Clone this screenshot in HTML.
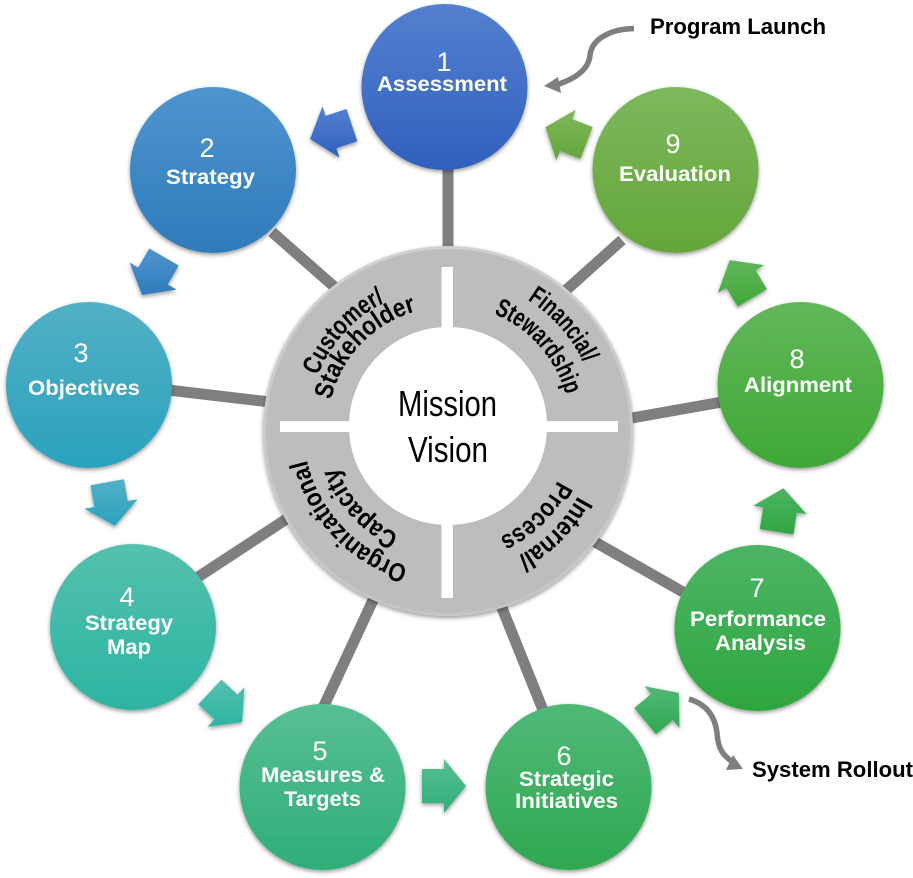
<!DOCTYPE html>
<html><head><meta charset="utf-8"><style>
html,body{margin:0;padding:0;background:#fff}
svg{display:block}
text{font-family:"Liberation Sans",Arial,sans-serif}
.n{fill:#fff;font-size:27px;text-anchor:middle}
.l{fill:#fff;font-size:21px;font-weight:bold;text-anchor:middle}
.t{fill:#000;font-size:26px;font-weight:bold}
.b{fill:#000;font-size:22px;font-weight:bold}
</style></head><body>
<svg width="913" height="878" viewBox="0 0 913 878" xmlns="http://www.w3.org/2000/svg">
<defs>
<filter id="s" x="-15%" y="-15%" width="130%" height="130%"><feDropShadow dx="0" dy="2" stdDeviation="2" flood-color="#000" flood-opacity=".4"/></filter>
<filter id="bl" x="-5%" y="-5%" width="110%" height="110%"><feGaussianBlur stdDeviation=".35"/></filter>
<linearGradient id="g1" x1="0" y1="0" x2="0" y2="1"><stop offset="0" stop-color="#5580d0"/><stop offset="1" stop-color="#2f60bd"/></linearGradient>
<linearGradient id="g2" x1="0" y1="0" x2="0" y2="1"><stop offset="0" stop-color="#4f95cf"/><stop offset="1" stop-color="#2f7bbb"/></linearGradient>
<linearGradient id="g3" x1="0" y1="0" x2="0" y2="1"><stop offset="0" stop-color="#52b0c6"/><stop offset="1" stop-color="#2aa2bc"/></linearGradient>
<linearGradient id="g4" x1="0" y1="0" x2="0" y2="1"><stop offset="0" stop-color="#55c0ae"/><stop offset="1" stop-color="#2cb5a2"/></linearGradient>
<linearGradient id="g5" x1="0" y1="0" x2="0" y2="1"><stop offset="0" stop-color="#58bf94"/><stop offset="1" stop-color="#2eae78"/></linearGradient>
<linearGradient id="g6" x1="0" y1="0" x2="0" y2="1"><stop offset="0" stop-color="#50b978"/><stop offset="1" stop-color="#2fa850"/></linearGradient>
<linearGradient id="g7" x1="0" y1="0" x2="0" y2="1"><stop offset="0" stop-color="#4db565"/><stop offset="1" stop-color="#2ea63f"/></linearGradient>
<linearGradient id="g8" x1="0" y1="0" x2="0" y2="1"><stop offset="0" stop-color="#62b75a"/><stop offset="1" stop-color="#3fa836"/></linearGradient>
<linearGradient id="g9" x1="0" y1="0" x2="0" y2="1"><stop offset="0" stop-color="#7db85c"/><stop offset="1" stop-color="#64a63a"/></linearGradient>
<linearGradient id="d" x1="0" y1="0" x2="0" y2="1"><stop offset="0" stop-color="#d0d0d0"/><stop offset="1" stop-color="#c4c4c4"/></linearGradient>
<path id="p1" d="M317.700,375.700 A140,140 0 0 1 411.800,291.800"/>
<path id="p2" d="M331,400 A120,120 0 0 1 443.800,307.100"/>
<path id="p3" d="M527.500,299.800 A150,150 0 0 1 594.700,395.800"/>
<path id="p4" d="M493.700,313.900 A122,122 0 0 1 570,427"/>
<path id="p5" d="M577.800,496 A147,147 0 0 1 473.500,571.800"/>
<path id="p6" d="M557.700,480.500 A122,122 0 0 1 458.600,548.500"/>
<path id="p7" d="M408,566.400 A145,145 0 0 1 303.600,414.400"/>
<path id="p8" d="M399,534.400 A118,118 0 0 1 330.500,437.300"/>
</defs>
<g stroke="#7f7f7f" stroke-width="11" fill="none">
<line x1="448" y1="165" x2="448" y2="250"/>
<line x1="272" y1="232" x2="338" y2="290"/>
<line x1="168" y1="390" x2="270" y2="402"/>
<line x1="195" y1="579" x2="288" y2="518"/>
<line x1="323" y1="708" x2="374" y2="598"/>
<line x1="543" y1="710" x2="500" y2="603"/>
<line x1="683" y1="592" x2="595" y2="542"/>
<line x1="722" y1="402" x2="632" y2="418"/>
<line x1="622" y1="240" x2="564" y2="292"/>
</g>
<circle cx="448" cy="431" r="185" fill="url(#d)" filter="url(#s)"/>
<circle cx="448" cy="431" r="182" fill="#bdbdbd"/>
<rect x="441.500" y="267" width="11.500" height="331" fill="#fff"/>
<rect x="280" y="421" width="338" height="11" fill="#fff"/>
<circle cx="448" cy="426" r="99" fill="#fff"/>
<g filter="url(#s)">
<circle cx="444.500" cy="87" r="83" fill="url(#g1)"/>
<circle cx="213" cy="170" r="83" fill="url(#g2)"/>
<circle cx="89" cy="385" r="83" fill="url(#g3)"/>
<circle cx="133" cy="627" r="83" fill="url(#g4)"/>
<circle cx="322.500" cy="787" r="83" fill="url(#g5)"/>
<circle cx="568.500" cy="787" r="83" fill="url(#g6)"/>
<circle cx="757.500" cy="628" r="83" fill="url(#g7)"/>
<circle cx="800.500" cy="385" r="83" fill="url(#g8)"/>
<circle cx="675.500" cy="170" r="83" fill="url(#g9)"/>
<polygon fill="url(#g1)" points="357.300,141.200 336.400,148.100 339.500,157.600 310.100,139 322.500,106.400 325.600,115.900 346.500,108.950"/>
<polygon fill="url(#g2)" points="178.700,265.450 167.700,284.500 176.400,289.500 142,295 129.600,262.500 138.300,267.500 149.300,248.450"/>
<polygon fill="url(#g3)" points="123.900,479.300 127.700,501 137.600,499.300 114.800,525.700 84.400,508.700 94.300,507 90.500,485.300"/>
<polygon fill="url(#g4)" points="221.500,679.600 237.600,694.600 244.400,687.300 242.100,722 207.600,726.700 214.400,719.400 198.300,704.400"/>
<polygon fill="url(#g5)" points="422,769 444,769 444,759 466,786 444,813 444,803 422,803"/>
<polygon fill="url(#g6)" points="634.250,708.150 651.100,694 644.600,686.300 678.850,692.850 679.400,727.700 672.900,720 656,734.150"/>
<polygon fill="url(#g7)" points="759.800,529 763.200,507.350 753.300,505.800 783.400,488.300 806.700,514.200 796.800,512.650 793.400,534.350"/>
<polygon fill="url(#g8)" points="737.700,306.600 726.400,287.750 717.900,292.900 729.700,260.150 764.100,265.100 755.600,270.250 766.900,289.100"/>
<polygon fill="url(#g9)" points="580.400,158.800 559.900,150.900 556.300,160.200 545.500,127.100 575.700,109.800 572.100,119.100 592.600,127"/>
</g>
<g fill="none" stroke="#7f7f7f" stroke-width="5.500">
<path d="M634,28.500 C612,29 592,38 590,55 C589,68 578,78 556,85"/>
<path d="M689,699 C706,704 715,716 717,733 C718,748 722,755 734,763"/>
</g>
<polygon fill="#7f7f7f" points="544,86 558,77 561,93"/>
<polygon fill="#7f7f7f" points="743,769 733,755 726,770"/>
<g filter="url(#bl)">
<text class="n" x="444" y="71">1</text>
<text class="l" x="442" y="91" textLength="130" lengthAdjust="spacingAndGlyphs">Assessment</text>
<text class="n" x="207" y="157">2</text>
<text class="l" x="210.500" y="184" textLength="89" lengthAdjust="spacingAndGlyphs">Strategy</text>
<text class="n" x="81" y="362">3</text>
<text class="l" x="84" y="395" textLength="112" lengthAdjust="spacingAndGlyphs">Objectives</text>
<text class="n" x="127" y="606">4</text>
<text class="l" x="129" y="630" textLength="88" lengthAdjust="spacingAndGlyphs">Strategy</text>
<text class="l" x="129" y="654" textLength="44" lengthAdjust="spacingAndGlyphs">Map</text>
<text class="n" x="320" y="760">5</text>
<text class="l" x="323" y="782" textLength="124" lengthAdjust="spacingAndGlyphs">Measures &amp;</text>
<text class="l" x="322.500" y="806" textLength="77" lengthAdjust="spacingAndGlyphs">Targets</text>
<text class="n" x="564" y="765">6</text>
<text class="l" x="566.500" y="786" textLength="95" lengthAdjust="spacingAndGlyphs">Strategic</text>
<text class="l" x="566.500" y="808" textLength="103" lengthAdjust="spacingAndGlyphs">Initiatives</text>
<text class="n" x="757" y="597">7</text>
<text class="l" x="758" y="626" textLength="136" lengthAdjust="spacingAndGlyphs">Performance</text>
<text class="l" x="760.500" y="650" textLength="91" lengthAdjust="spacingAndGlyphs">Analysis</text>
<text class="n" x="797" y="368">8</text>
<text class="l" x="798" y="392" textLength="108" lengthAdjust="spacingAndGlyphs">Alignment</text>
<text class="n" x="673" y="153">9</text>
<text class="l" x="675" y="181" textLength="112" lengthAdjust="spacingAndGlyphs">Evaluation</text>
<text class="b" x="650" y="34" textLength="176" lengthAdjust="spacingAndGlyphs">Program Launch</text>
<text class="b" x="752" y="777" textLength="161" lengthAdjust="spacingAndGlyphs">System Rollout</text>
<text x="398" y="416" font-size="36" fill="#000" textLength="99" lengthAdjust="spacingAndGlyphs">Mission</text>
<text x="408" y="462" font-size="36" fill="#000" textLength="80" lengthAdjust="spacingAndGlyphs">Vision</text>
<text class="t"><textPath href="#p1" textLength="102" lengthAdjust="spacingAndGlyphs">Customer/</textPath></text>
<text class="t"><textPath href="#p2" textLength="129" lengthAdjust="spacingAndGlyphs">Stakeholder</textPath></text>
<text class="t"><textPath href="#p3" textLength="86" lengthAdjust="spacingAndGlyphs">Financial/</textPath></text>
<text class="t"><textPath href="#p4" textLength="112" lengthAdjust="spacingAndGlyphs">Stewardship</textPath></text>
<text class="t"><textPath href="#p5" textLength="87" lengthAdjust="spacingAndGlyphs">Internal/</textPath></text>
<text class="t"><textPath href="#p6" textLength="83" lengthAdjust="spacingAndGlyphs">Process</textPath></text>
<text class="t"><textPath href="#p7" textLength="154" lengthAdjust="spacingAndGlyphs">Organizational</textPath></text>
<text class="t"><textPath href="#p8" textLength="94" lengthAdjust="spacingAndGlyphs">Capacity</textPath></text>
</g>
</svg>
</body></html>
